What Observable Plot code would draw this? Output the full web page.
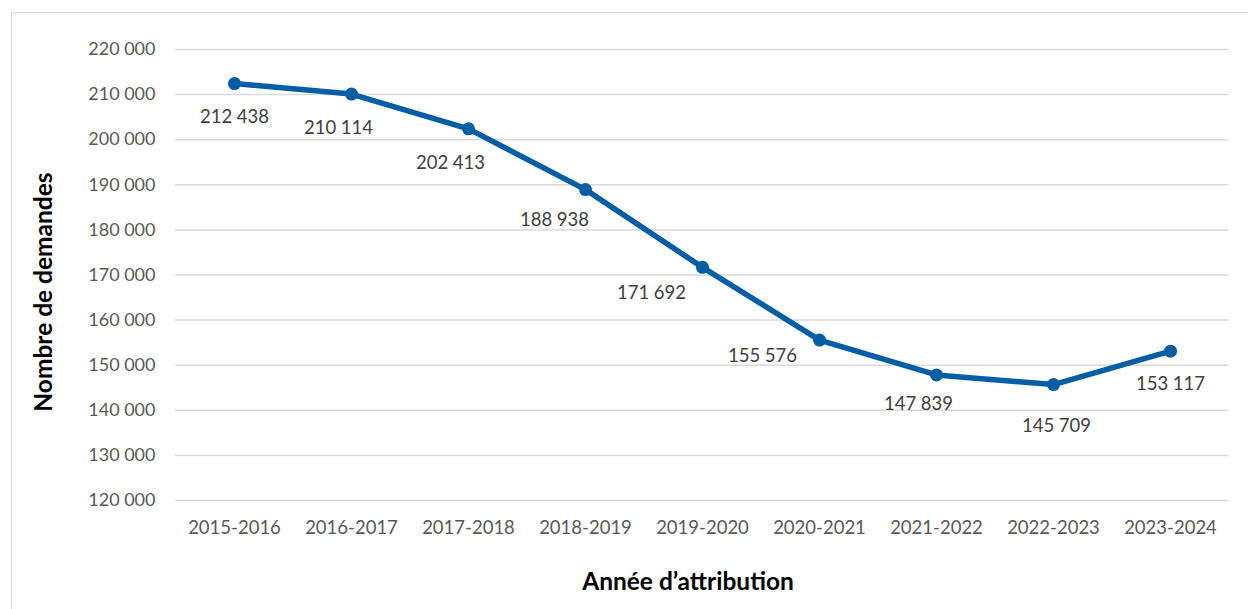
<!DOCTYPE html>
<html><head><meta charset="utf-8">
<script src="https://cdn.jsdelivr.net/npm/d3@7"></script>
<script src="https://cdn.jsdelivr.net/npm/@observablehq/plot@0.6"></script>
<style>
html,body{margin:0;padding:0;background:#fff;}
#wrap{position:relative;width:1248px;height:609px;overflow:hidden;font-family:Lato,"Open Sans",sans-serif;}
#frame{position:absolute;left:11px;top:12px;width:1250px;height:620px;border:1.5px solid #d9d9d9;box-sizing:border-box;}
#chart{position:absolute;left:0;top:0;}
.ytitle{position:absolute;left:42px;top:292px;transform:translate(-50%,-50%) rotate(-90deg);font-weight:bold;font-size:24.5px;color:#000;white-space:nowrap;}
.xtitle{position:absolute;left:688px;top:580px;transform:translate(-50%,-50%);font-weight:bold;font-size:24.5px;color:#000;white-space:nowrap;}
</style></head>
<body><div id="wrap"><div id="frame"></div><div id="chart"></div>
<div class="ytitle">Nombre de demandes</div>
<div class="xtitle">Année d’attribution</div></div>
<script>
const years = ["2015-2016","2016-2017","2017-2018","2018-2019","2019-2020","2020-2021","2021-2022","2022-2023","2023-2024"];
const demandes = [212438,210114,202413,188938,171692,155576,147839,145709,153117];
const yTicks = [120000,130000,140000,150000,160000,170000,180000,190000,200000,210000,220000];

// label nudges (style: where each data label sits relative to its point)
const labelDx = [0,-13,-18,-31,-51,-57,-18,3,0];
const labelDy = [33,34,34,30,26,16,29,42,33];

const data = years.map((y,i)=>({annee:y, n:demandes[i]}));
const fmt = v => d3.format(",")(v).replace(/,/g," ");

const plot = Plot.plot({
  width:1248, height:609,
  marginLeft:175, marginRight:20, marginTop:49, marginBottom:109,
  style:{fontFamily:"Lato, 'Open Sans', sans-serif", fontSize:"18px", color:"#595959", background:"transparent"},
  x:{type:"point", domain:years, padding:0.5, label:null},
  y:{domain:[120000,220000], label:null},
  marks:[
    Plot.gridY(yTicks,{stroke:"#d9d9d9", strokeOpacity:1, strokeWidth:1.5}),
    Plot.axisY(yTicks,{tickSize:0, tickPadding:20, tickFormat:fmt, label:null, fill:"#595959", fontSize:18}),
    Plot.axisX({tickSize:0, tickPadding:20, label:null, fill:"#595959", fontSize:18.5}),
    Plot.line(data,{x:"annee", y:"n", stroke:"#005DA6", strokeWidth:5.5}),
    Plot.dot(data,{x:"annee", y:"n", fill:"#005DA6", r:6.5}),
    ...data.map((d,i)=>Plot.text([d],{x:"annee", y:"n", text:e=>fmt(e.n), dx:labelDx[i], dy:labelDy[i], fill:"#404040", fontSize:18.5}))
  ]
});
document.getElementById("chart").appendChild(plot);
</script></body></html>
